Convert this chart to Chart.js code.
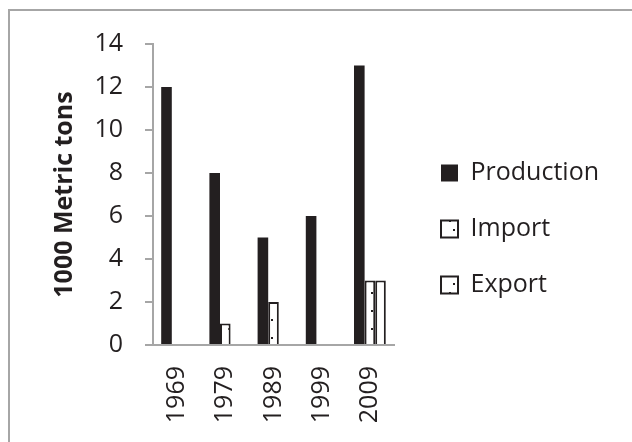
<!DOCTYPE html>
<html>
<head>
<meta charset="utf-8">
<script src="https://cdn.jsdelivr.net/npm/chart.js@4.4.0/dist/chart.umd.min.js"></script>
<style>
  html, body { margin: 0; padding: 0; background: #fff; overflow: hidden; }
  #frame { position: absolute; left: 8px; top: 9px; width: 700px; height: 500px; border: 2px solid #a6a6a6; }
  #wrap { position: absolute; left: 0; top: 0; width: 632px; height: 442px; }
</style>
</head>
<body>
<div id="frame"></div>
<div id="wrap"><canvas id="chart"></canvas></div>
<script>
// data
const years = ['1969', '1979', '1989', '1999', '2009'];
const production = [12, 8, 5, 6, 13];
const imports = [0, 1, 2, 0, 3];
const exportsData = [0, 0, 0, 0, 3];
const yTicks = [0, 2, 4, 6, 8, 10, 12, 14];

const ink = '#231f20';
const axisGray = '#a6a6a6';
const font = 'Open Sans';

// sparse dotted fill used by Import / Export bars
function dotPattern() {
  const tile = document.createElement('canvas');
  tile.width = 13;
  tile.height = 18;
  const t = tile.getContext('2d');
  t.fillStyle = '#fff';
  t.fillRect(0, 0, 13, 18);
  t.fillStyle = ink;
  t.fillRect(7, 4, 2, 2);
  t.fillRect(11, 13, 2, 2);
  return t.createPattern(tile, 'repeat');
}
const dots = dotPattern();

// move legend a little right / up, like the original
const legendShift = {
  id: 'legendShift',
  afterLayout(chart) {
    const lg = chart.legend;
    if (!lg) return;
    lg.left += 16;
    lg.right += 16;
    lg.top -= 14;
    lg.bottom -= 14;
  }
};

new Chart(document.getElementById('chart'), {
  type: 'bar',
  data: {
    labels: years,
    datasets: [
      { label: 'Production', data: production, backgroundColor: ink, borderWidth: 0 },
      { label: 'Import', data: imports, backgroundColor: dots, borderColor: ink, borderWidth: 2 },
      { label: 'Export', data: exportsData, backgroundColor: dots, borderColor: ink, borderWidth: 2 }
    ]
  },
  options: {
    responsive: true,
    maintainAspectRatio: false,
    animation: false,
    layout: { padding: { left: 0, top: 44, right: 39, bottom: 0 } },
    datasets: { bar: { categoryPercentage: 0.66, barPercentage: 1.0 } },
    plugins: {
      tooltip: { enabled: false },
      legend: {
        position: 'right',
        maxWidth: 300,
        labels: {
          color: ink,
          boxWidth: 17,
          boxHeight: 17,
          padding: 31,
          font: { family: font, size: 25 }
        }
      }
    },
    scales: {
      x: {
        grid: { display: false, drawTicks: false },
        border: { color: axisGray, width: 2 },
        ticks: {
          color: ink,
          minRotation: 90,
          maxRotation: 90,
          padding: 21,
          font: { family: font, size: 25 }
        },
        afterFit: s => { s.height = 97; }
      },
      y: {
        min: 0,
        max: 14,
        afterBuildTicks: s => { s.ticks = yTicks.map(v => ({ value: v })); },
        grid: { drawOnChartArea: false, drawTicks: true, tickLength: 8, color: axisGray, lineWidth: 2 },
        border: { color: axisGray, width: 2 },
        ticks: {
          color: ink,
          padding: 22,
          font: { family: font, size: 25 }
        },
        title: {
          display: true,
          text: '1000 Metric tons',
          color: ink,
          padding: { top: 50, bottom: 0 },
          font: { family: font, size: 25, weight: 'bold' }
        },
        afterFit: s => { s.width = 153; }
      }
    }
  },
  plugins: [legendShift]
});
</script>
</body>
</html>
